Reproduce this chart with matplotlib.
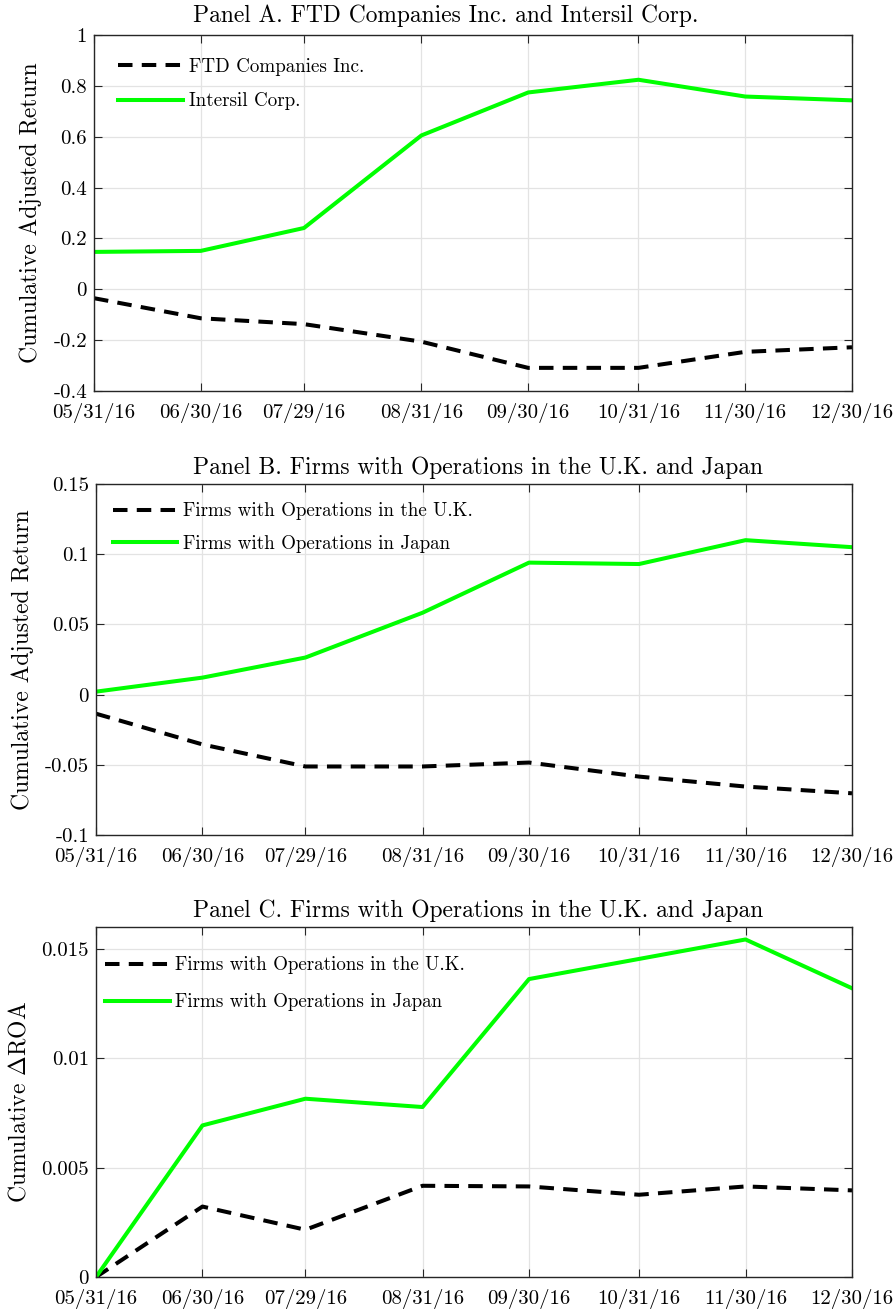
import numpy as np
import matplotlib
matplotlib.use("Agg")
import matplotlib.pyplot as plt
import matplotlib.dates as mdates

plt.rcParams['font.family'] = 'serif'
plt.rcParams['font.serif'] = ['cmr10', 'DejaVu Serif']
plt.rcParams['mathtext.fontset'] = 'cm'
plt.rcParams['axes.unicode_minus'] = False

dates = np.array(['2016-05-31', '2016-06-30', '2016-07-29', '2016-08-31',
                  '2016-09-30', '2016-10-31', '2016-11-30', '2016-12-30'],
                 dtype='datetime64[D]')
date_labels = ['05/31/16', '06/30/16', '07/29/16', '08/31/16',
               '09/30/16', '10/31/16', '11/30/16', '12/30/16']

# Panel A
ftd = [-0.035, -0.114, -0.137, -0.206, -0.309, -0.309, -0.246, -0.228]
intersil = [0.147, 0.151, 0.241, 0.605, 0.774, 0.824, 0.758, 0.743]
# Panel B
uk_ret = [-0.0136, -0.0355, -0.0512, -0.0512, -0.0484, -0.0584, -0.0655, -0.0703]
jp_ret = [0.0021, 0.0121, 0.0264, 0.0583, 0.094, 0.093, 0.110, 0.105]
# Panel C
uk_roa = [0.0, 0.00322, 0.00216, 0.00417, 0.00414, 0.00376, 0.00414, 0.00396]
jp_roa = [0.0, 0.00693, 0.00815, 0.00777, 0.01362, 0.01454, 0.01543, 0.0132]

yt_a = [-0.4, -0.2, 0, 0.2, 0.4, 0.6, 0.8, 1]
yl_a = ['-0.4', '-0.2', '0', '0.2', '0.4', '0.6', '0.8', '1']
yt_b = [-0.1, -0.05, 0, 0.05, 0.1, 0.15]
yl_b = ['-0.1', '-0.05', '0', '0.05', '0.1', '0.15']
yt_c = [0, 0.005, 0.01, 0.015]
yl_c = ['0', '0.005', '0.01', '0.015']

W, H = 896, 1310
fig = plt.figure(figsize=(W / 100, H / 100), dpi=100)

def box(l, r, t, b):
    return [l / W, (H - b) / H, (r - l) / W, (b - t) / H]

xd = mdates.date2num(dates.astype('datetime64[s]').astype(object))

# rect, title, title left x (px), ylabel, series, legend, ylim, ticks, legend pos, spacing
panels = [
    (box(94, 852, 35, 391), 'Panel A. FTD Companies Inc. and Intersil Corp.', 193,
     'Cumulative Adjusted Return', ftd, intersil,
     'FTD Companies Inc.', 'Intersil Corp.', (-0.4, 1), yt_a, yl_a,
     (0.032, 0.935), 0.85, 9.5),
    (box(96, 852, 484, 835), 'Panel B. Firms with Operations in the U.K. and Japan', 193,
     'Cumulative Adjusted Return', uk_ret, jp_ret,
     'Firms with Operations in the U.K.', 'Firms with Operations in Japan',
     (-0.1, 0.15), yt_b, yl_b, (0.022, 0.948), 0.75, 7.5),
    (box(96, 852, 927, 1277), 'Panel C. Firms with Operations in the U.K. and Japan', 193,
     r'Cumulative $\Delta$ROA', uk_roa, jp_roa,
     'Firms with Operations in the U.K.', 'Firms with Operations in Japan',
     (0, 0.016), yt_c, yl_c, (0.012, 0.916), 1.0, 7.5),
]

axc = '#262626'
for (rect, title, tx, ylab, black, green, lb, lg, ylim, yt, yl,
     legpos, lsp, tpad) in panels:
    ax = fig.add_axes(rect)
    ax.plot(xd, black, color='k', lw=2.9, dashes=(3.6, 2.3), label=lb)
    ax.plot(xd, green, color='#00ff00', lw=2.9, label=lg)
    ax.set_xlim(xd[0], xd[-1])
    ax.set_ylim(*ylim)
    ax.set_xticks(xd)
    ax.set_xticklabels(date_labels)
    ax.set_yticks(yt)
    ax.set_yticklabels(yl)
    ax.grid(True, color='#e3e3e3', lw=0.9)
    ax.set_axisbelow(True)
    ax.tick_params(direction='in', top=True, right=True, length=6,
                   width=0.8, colors=axc, labelcolor='k', labelsize=15)
    ax.tick_params(axis='x', pad=8.5)
    ax.tick_params(axis='y', pad=5)
    for s in ax.spines.values():
        s.set_color(axc)
        s.set_linewidth(1.0)
    x0 = rect[0] * W
    ax.set_title(title, fontsize=16.9, pad=tpad, loc='left',
                 x=(tx - x0) / (rect[2] * W))
    ax.set_ylabel(ylab, fontsize=17, labelpad=8)
    ax.legend(loc='upper left', bbox_to_anchor=legpos, frameon=False,
              borderpad=0, borderaxespad=0, fontsize=13.7, handlelength=3.4,
              handletextpad=0.3, labelspacing=lsp)

fig.savefig('out.png', dpi=100)
